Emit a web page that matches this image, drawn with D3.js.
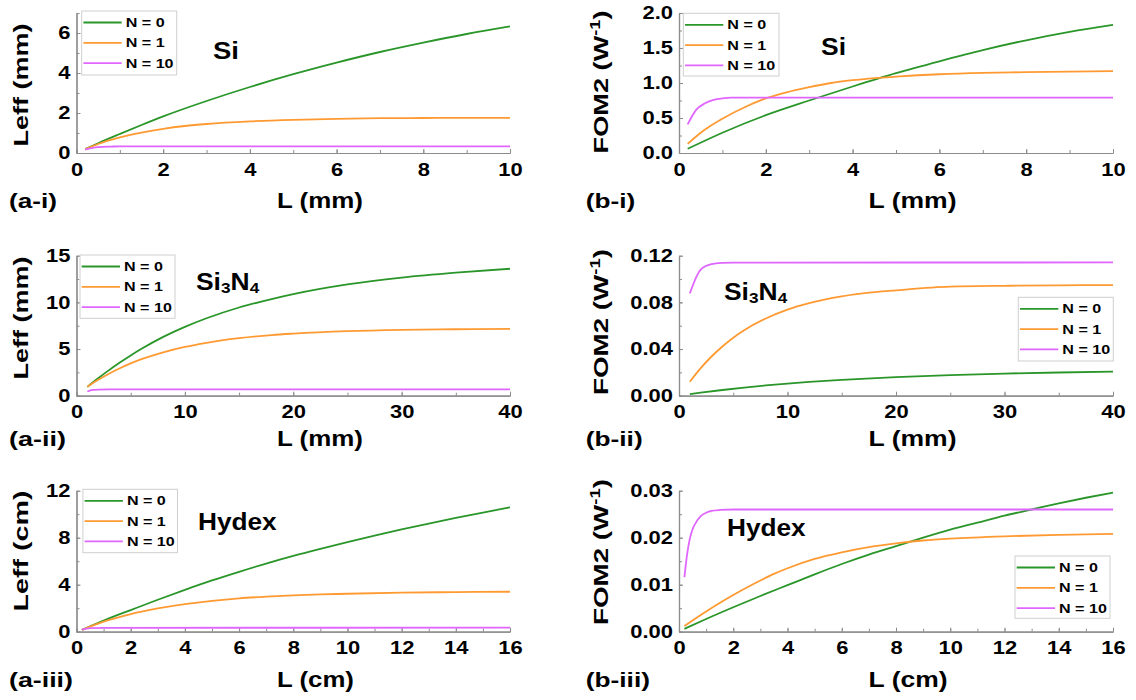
<!DOCTYPE html>
<html>
<head>
<meta charset="utf-8">
<script src="https://cdn.jsdelivr.net/npm/d3@7"></script>
<style>
  body { margin: 0; background: #fff; }
  text { font-family: "Liberation Sans", Arial, sans-serif; font-weight: bold; fill: #000; }
</style>
</head>
<body>
<script>
// ---------- DATA ----------
const seriesNames = ["N = 0", "N = 1", "N = 10"];
const seriesColors = ["#2a962a", "#ff9a33", "#e066ff"];

// (a-i) Si, Leff (mm) vs L (mm)
const ai_N0 = [[0.2,0.2],[0.5,0.49],[1,0.95],[1.5,1.4],[2,1.83],[3,2.6],[4,3.3],[5,3.94],[6,4.52],[7,5.05],[8,5.52],[9,5.95],[10,6.33]];
const ai_N1 = [[0.2,0.19],[0.5,0.45],[1,0.78],[1.5,1.02],[2,1.21],[2.5,1.35],[3,1.45],[4,1.58],[5,1.66],[6,1.71],[7,1.74],[8,1.75],[9,1.76],[10,1.76]];
const ai_N10 = [[0.2,0.17],[0.4,0.27],[0.6,0.31],[0.8,0.32],[1,0.33],[10,0.33]];

// (b-i) Si, FOM2 (W^-1) vs L (mm)
const bi_N0 = [[0.2,0.06],[1,0.29],[2,0.54],[3,0.75],[4,0.95],[5,1.14],[6,1.31],[7,1.47],[8,1.61],[9,1.73],[10,1.83]];
const bi_N1 = [[0.2,0.13],[0.5,0.29],[1,0.49],[1.5,0.65],[2,0.78],[2.5,0.87],[3,0.94],[3.5,1.0],[4,1.04],[5,1.09],[6,1.125],[7,1.145],[8,1.155],[10,1.17]];
const bi_N10 = [[0.2,0.41],[0.4,0.62],[0.6,0.71],[0.8,0.76],[1,0.78],[1.2,0.79],[10,0.79]];

// (a-ii) Si3N4, Leff (mm) vs L (mm)
const aii_N0 = [[1,0.95],[2,1.87],[3,2.74],[4,3.55],[5,4.31],[6,5.02],[8,6.3],[10,7.38],[12,8.3],[15,9.45],[18,10.35],[20,10.88],[25,11.92],[30,12.65],[35,13.18],[40,13.6]];
const aii_N1 = [[1,0.95],[2,1.7],[3,2.36],[4,2.94],[5,3.46],[6,3.91],[8,4.65],[10,5.23],[12,5.67],[15,6.16],[18,6.5],[20,6.65],[25,6.91],[30,7.05],[35,7.12],[40,7.16]];
const aii_N10 = [[1,0.45],[1.5,0.62],[2,0.66],[3,0.68],[40,0.68]];

// (b-ii) Si3N4, FOM2 (W^-1) vs L (mm)
const bii_N0 = [[1,0.0014],[2,0.0026],[4,0.0049],[6,0.007],[8,0.0088],[10,0.0104],[12,0.0118],[15,0.0136],[20,0.016],[25,0.0177],[30,0.019],[35,0.0199],[40,0.0206]];
const bii_N1 = [[1,0.012],[2,0.0236],[3,0.0336],[4,0.0422],[5,0.0497],[6,0.0561],[8,0.0662],[10,0.0738],[12,0.0793],[15,0.0851],[18,0.0887],[20,0.0903],[25,0.0935],[30,0.0942],[35,0.0946],[40,0.0948]];
const bii_N10 = [[1,0.0877],[2,0.108],[3,0.1127],[4,0.1138],[5,0.1141],[40,0.1142]];

// (a-iii) Hydex, Leff (cm) vs L (cm)
const aiii_N0 = [[0.2,0.15],[1,0.95],[2,1.84],[3,2.72],[4,3.56],[5,4.36],[6,5.1],[7,5.8],[8,6.45],[9,7.05],[10,7.62],[11,8.17],[12,8.7],[13,9.2],[14,9.68],[15,10.14],[16,10.58]];
const aiii_N1 = [[0.2,0.15],[1,0.85],[2,1.5],[3,1.98],[4,2.35],[5,2.63],[6,2.84],[7,2.98],[8,3.09],[9,3.17],[10,3.23],[12,3.32],[14,3.37],[16,3.4]];
const aiii_N10 = [[0.2,0.17],[0.5,0.3],[1,0.33],[16,0.34]];

// (b-iii) Hydex, FOM2 (W^-1) vs L (cm)
const biii_N0 = [[0.2,0.0006],[1,0.0027],[2,0.0052],[3,0.0076],[4,0.0099],[5,0.0122],[6,0.0144],[7,0.0164],[8,0.0182],[9,0.02],[10,0.0217],[11,0.0232],[12,0.0247],[13,0.026],[14,0.0273],[15,0.0285],[16,0.0296]];
const biii_N1 = [[0.2,0.0012],[0.5,0.0024],[1,0.0043],[1.5,0.0061],[2,0.0078],[2.5,0.0094],[3,0.0109],[3.5,0.0123],[4,0.0135],[5,0.0155],[6,0.0169],[7,0.018],[8,0.0188],[9,0.0194],[10,0.0198],[12,0.0203],[14,0.0206],[16,0.0208]];
const biii_N10 = [[0.2,0.0116],[0.3,0.0165],[0.4,0.0198],[0.5,0.0218],[0.6,0.023],[0.8,0.0246],[1,0.0253],[1.2,0.0257],[1.5,0.0259],[2,0.026],[16,0.026]];

// tick values
const xTicks10 = [0,2,4,6,8,10];
const xTicks40 = [0,10,20,30,40];
const xTicks16 = [0,2,4,6,8,10,12,14,16];
const yTicks_ai = [0,2,4,6];
const yTicks_bi = [0,0.5,1,1.5,2];
const yTicks_aii = [0,5,10,15];
const yTicks_bii = [0,0.04,0.08,0.12];
const yTicks_aiii = [0,4,8,12];
const yTicks_biii = [0,0.01,0.02,0.03];

// ---------- LAYOUT ----------
const W = 1136, H = 700;
const svg = d3.select("body").append("svg").attr("width", W).attr("height", H);

const colL = {x0: 76.5, x1: 510, labelX: 9, titleX: 277, yTitleX: 28};
const colR = {x0: 679, x1: 1113, labelX: 585.7, titleX: 868.6, yTitleX: 608};
const rows = [
  {top: 13, bottom: 153, base: 208},
  {top: 255.7, bottom: 395.7, base: 446},
  {top: 490.7, bottom: 631.7, base: 687.5}
];

const panels = [
  {col: colL, row: rows[0], id: "(a-i)", idW: 48, xDom: [0,10], yDom: [0,7], xT: xTicks10, xMinor: d3.range(0,10.01,1), yT: yTicks_ai, yMinor: d3.range(0,7.01,1), yFmt: d3.format("d"),
   xTitle: "L (mm)", xTW: 86, yTitle: "Leff (mm)", yTW: 123, yTC: 85, fom: false, data: [ai_N0, ai_N1, ai_N10],
   mat: "Si", matW: 26, matX: 213, matY: 59, leg: {x: 81.7, y: 11, w: 95, h: 64}},
  {col: colR, row: rows[0], id: "(b-i)", idW: 49.6, xDom: [0,10], yDom: [0,2], xT: xTicks10, xMinor: d3.range(0,10.01,1), yT: yTicks_bi, yMinor: d3.range(0,2.01,0.25), yFmt: d3.format(".1f"),
   xTitle: "L (mm)", xTW: 88, yTW: 143, yTC: 82, fom: true, data: [bi_N0, bi_N1, bi_N10],
   mat: "Si", matW: 25, matX: 821, matY: 55, leg: {x: 683.3, y: 13.3, w: 95.7, h: 62.7}},
  {col: colL, row: rows[1], id: "(a-ii)", idW: 57, xDom: [0,40], yDom: [0,15], xT: xTicks40, xMinor: d3.range(0,40.01,5), yT: yTicks_aii, yMinor: d3.range(0,15.01,2.5), yFmt: d3.format("d"),
   xTitle: "L (mm)", xTW: 86, yTitle: "Leff (mm)", yTW: 123, yTC: 318, fom: false, data: [aii_N0, aii_N1, aii_N10],
   mat: "Si3N4", matW: 64, matX: 196, matY: 290, leg: {x: 80, y: 255, w: 95, h: 63.3}},
  {col: colR, row: rows[1], id: "(b-ii)", idW: 57, xDom: [0,40], yDom: [0,0.12], xT: xTicks40, xMinor: d3.range(0,40.01,5), yT: yTicks_bii, yMinor: d3.range(0,0.1201,0.02), yFmt: d3.format(".2f"),
   xTitle: "L (mm)", xTW: 88, yTW: 146, yTC: 322, fom: true, data: [bii_N0, bii_N1, bii_N10],
   mat: "Si3N4", matW: 64, matX: 724, matY: 300, leg: {x: 1018.3, y: 297.3, w: 95, h: 63.7}},
  {col: colL, row: rows[2], id: "(a-iii)", idW: 64, xDom: [0,16], yDom: [0,12], xT: xTicks16, xMinor: d3.range(0,16.01,1), yT: yTicks_aiii, yMinor: d3.range(0,12.01,2), yFmt: d3.format("d"),
   xTitle: "L (cm)", xTW: 77, yTitle: "Leff (cm)", yTW: 121, yTC: 551, fom: false, data: [aiii_N0, aiii_N1, aiii_N10],
   mat: "Hydex", matW: 79, matX: 198, matY: 530, leg: {x: 82.9, y: 489.3, w: 94.6, h: 63.4}},
  {col: colR, row: rows[2], id: "(b-iii)", idW: 64.3, xDom: [0,16], yDom: [0,0.03], xT: xTicks16, xMinor: d3.range(0,16.01,1), yT: yTicks_biii, yMinor: d3.range(0,0.03001,0.005), yFmt: d3.format(".2f"),
   xTitle: "L (cm)", xTW: 79, yTW: 146, yTC: 552, fom: true, data: [biii_N0, biii_N1, biii_N10],
   mat: "Hydex", matW: 79, matX: 727, matY: 535.7, leg: {x: 1015, y: 556, w: 95, h: 62.3}}
];

const axisColor = "#8c8c8c";
const STRETCH = 1.22;

// stretch a text element horizontally about its anchor point
function stretch(el, s) {
  const t = d3.select(el);
  const x = +t.attr("x") || 0, y = +t.attr("y") || 0;
  t.attr("transform", `translate(${x},${y}) scale(${s},1) translate(${-x},${-y})`);
}
function fitWidth(el, target) {
  const w = el.getBBox().width;
  stretch(el, target / w);
}

function styleAxis(g) {
  g.select(".domain").attr("stroke", axisColor).attr("stroke-width", 1.2);
  g.selectAll(".tick line").attr("stroke", axisColor).attr("stroke-width", 1);
  g.selectAll(".tick text").attr("font-family", "Liberation Sans, Arial, sans-serif").attr("font-weight", "bold")
    .attr("font-size", 18).attr("fill", "#000")
    .each(function() { stretch(this, STRETCH); });
}

panels.forEach(p => {
  const c = p.col, r = p.row;
  const x = d3.scaleLinear().domain(p.xDom).range([c.x0, c.x1]);
  const y = d3.scaleLinear().domain(p.yDom).range([r.bottom, r.top]);
  const g = svg.append("g");

  // minor ticks
  g.append("g").attr("transform", `translate(0,${r.bottom})`)
    .call(d3.axisBottom(x).tickValues(p.xMinor).tickFormat("").tickSizeInner(-3).tickSizeOuter(0))
    .call(styleAxis);
  g.append("g").attr("transform", `translate(${c.x0},0)`)
    .call(d3.axisLeft(y).tickValues(p.yMinor).tickFormat("").tickSizeInner(-3).tickSizeOuter(0))
    .call(styleAxis);
  // major axes
  g.append("g").attr("transform", `translate(0,${r.bottom})`)
    .call(d3.axisBottom(x).tickValues(p.xT).tickFormat(d3.format("d")).tickSizeInner(-4).tickSizeOuter(0).tickPadding(10))
    .call(styleAxis);
  g.append("g").attr("transform", `translate(${c.x0},0)`)
    .call(d3.axisLeft(y).tickValues(p.yT).tickFormat(p.yFmt).tickSizeInner(-4).tickSizeOuter(0).tickPadding(6))
    .call(styleAxis);

  // curves
  const line = d3.line().x(d => x(d[0])).y(d => y(d[1])).curve(d3.curveMonotoneX);
  p.data.forEach((s, i) => {
    g.append("path").datum(s).attr("d", line).attr("fill", "none")
      .attr("stroke", seriesColors[i]).attr("stroke-width", 1.8);
  });

  // legend
  const L = p.leg;
  const lg = g.append("g");
  lg.append("rect").attr("x", L.x).attr("y", L.y).attr("width", L.w).attr("height", L.h)
    .attr("fill", "#fff").attr("stroke", "#cfcfcf").attr("stroke-width", 1);
  seriesNames.forEach((n, i) => {
    const yy = L.y + 11.5 + i * 20.3;
    lg.append("line").attr("x1", L.x + 1.7).attr("x2", L.x + 40).attr("y1", yy).attr("y2", yy)
      .attr("stroke", seriesColors[i]).attr("stroke-width", 1.8);
    lg.append("text").attr("x", L.x + 44).attr("y", yy + 4.6).attr("font-size", 13).text(n)
      .each(function() { stretch(this, 1.24); });
  });

  // material label
  const mt = g.append("text").attr("x", p.matX).attr("y", p.matY).attr("font-size", 23);
  if (p.mat === "Si3N4") {
    mt.append("tspan").text("Si");
    mt.append("tspan").attr("font-size", 15).attr("dy", 3).text("3");
    mt.append("tspan").attr("dy", -3).text("N");
    mt.append("tspan").attr("font-size", 15).attr("dy", 3).text("4");
  } else {
    mt.text(p.mat);
  }
  fitWidth(mt.node(), p.matW);

  // panel id and x-title
  g.append("text").attr("x", c.labelX).attr("y", r.base).attr("font-size", 21).text(p.id)
    .each(function() { fitWidth(this, p.idW); });
  g.append("text").attr("x", c.titleX).attr("y", r.base).attr("font-size", 22).text(p.xTitle)
    .each(function() { fitWidth(this, p.xTW); });

  // y-title (stretched along its reading direction)
  const yt = g.append("text").attr("x", 0).attr("y", 0)
    .attr("text-anchor", "middle").attr("font-size", 21);
  if (p.fom) {
    yt.append("tspan").text("FOM2 (W");
    yt.append("tspan").attr("font-size", 14).attr("dy", -8).text("-1");
    yt.append("tspan").attr("dy", 8).text(")");
  } else {
    yt.text(p.yTitle);
  }
  const yw = yt.node().getBBox().width;
  yt.attr("transform", `translate(${c.yTitleX},${p.yTC}) rotate(-90) scale(${p.yTW / yw},1)`);
});
</script>
</body>
</html>
